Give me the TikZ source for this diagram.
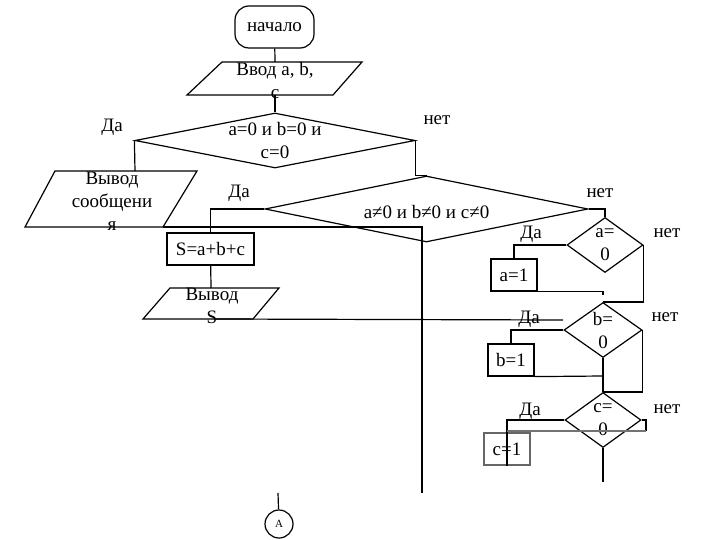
\documentclass[tikz,border=0pt]{standalone}
\usepackage{fontspec}
\setmainfont{Liberation Serif}
\usetikzlibrary{shapes.geometric}

\begin{document}
\begin{tikzpicture}[x=1pt, y=-1pt, line width=1.2pt,
  every node/.style={font=\fontsize{19}{23}\selectfont},
  term/.style={draw, rounded corners=14pt, minimum width=79pt, minimum height=42pt},
  blk/.style={draw, minimum width=46pt, minimum height=32pt, inner sep=1pt},
  cond/.style={draw, diamond, inner sep=0pt},
  txt/.style={inner sep=0pt, align=center},
  conn/.style={draw, circle, minimum size=28pt, inner sep=0pt, font=\fontsize{11}{13}\selectfont},
  greyline/.style={draw=black!55, line width=2pt}]
\useasboundingbox (0,0) rectangle (720,540);

% Draw the blocks
\node[term] (start) at (274.5,27) {начало};
\draw (187,95) -- (222,62) -- (362,62) -- (333,95) -- cycle;
\node[txt] (inp) at (275,81) {Ввод a, b,\\c};
\node[cond, minimum width=280pt, minimum height=55pt,
  label={[txt]center:{a=0 и b=0 и\\c=0}}] (d1) at (275,140.5) {};
\draw (25,227) -- (55,171) -- (197,171) -- (163,227) -- cycle;
\node[txt] (msg) at (112,201) {Вывод\\сообщени\\я};
\node[cond, minimum width=323pt, minimum height=66pt,
  label={[txt, yshift=-3pt]center:{a≠0 и b≠0 и c≠0}}] (d2) at (426.5,209) {};
\node[blk, minimum width=87pt] (sum) at (210.5,249) {S=a+b+c};
\draw (143,319) -- (170,288) -- (279,288) -- (253,319) -- cycle;
\node[txt] (outS) at (212,306) {Вывод\\S};
\node[cond, minimum width=76pt, minimum height=55pt,
  label={[txt]center:{a=\\0}}] (da) at (605,245) {};
\node[blk] (a1) at (514,275) {a=1};
\node[cond, minimum width=78pt, minimum height=55pt,
  label={[txt]center:{b=\\0}}] (db) at (603,330) {};
\node[blk] (b1) at (511,360) {b=1};
\node[cond, minimum width=76pt, minimum height=55pt,
  label={[txt]center:{c=\\0}}] (dc) at (603,420) {};
\node[blk, draw=black!60] (c1) at (507,449) {c=1};
\node[conn] (A) at (279,524) {А};

% Да / нет
\node[txt] (yes1) at (112,127) {Да};
\node[txt] (no1) at (437,120) {нет};
\node[txt] (yes2) at (239,193) {Да};
\node[txt] (no2) at (600,193) {нет};
\node[txt] (yesa) at (531,234) {Да};
\node[txt] (noa) at (667,233) {нет};
\node[txt] (yesb) at (529,319) {Да};
\node[txt] (nob) at (665,317) {нет};
\node[txt] (yesc) at (530,411) {Да};
\node[txt] (noc) at (667,409) {нет};

% free ends
\coordinate (inp-n) at (275,62);
\coordinate (inp-s) at (275,95);
\coordinate (msg-n) at (135,171);
\coordinate (msg-e) at (163,227);
\coordinate (outS-n) at (211,288);
\coordinate (outS-s) at (216,319);
\coordinate (jn) at (422,493);
\coordinate (sline) at (563,320);
\coordinate (aend) at (603,295);
\coordinate (bend) at (603,376);
\coordinate (cr) at (646,431);
\coordinate (cline) at (507,431);
\coordinate (cend) at (603,482);
\coordinate (Atop) at (278,493);

% Draw the connectors
\draw (start) -- (inp-n);
\draw (inp-s) -- (d1);
\draw (d1.west) -- (msg-n);
\draw (d1.east) |- (d2.north);
\draw (msg-e) -| (jn);
\draw (d2.west) -| (sum);
\draw (sum) -- (outS-n);
\draw (outS-s) -- (sline);
\draw (d2.east) -| (da);
\draw (da.west) -| (a1);
\draw (a1.south east) -| (aend);
\draw (da.east) |- (db.north);
\draw (db.west) -| (b1);
\draw (b1.south east) -- (bend);
\draw (db) -- (dc);
\draw (db.east) |- (dc.north);
\draw (dc.west) -| (c1.south);
\draw (dc.east) -| (cr);
\draw[greyline] (cr) -- (cline);
\draw (dc) -- (cend);
\draw (Atop) -- (A);
\end{tikzpicture}
\end{document}
